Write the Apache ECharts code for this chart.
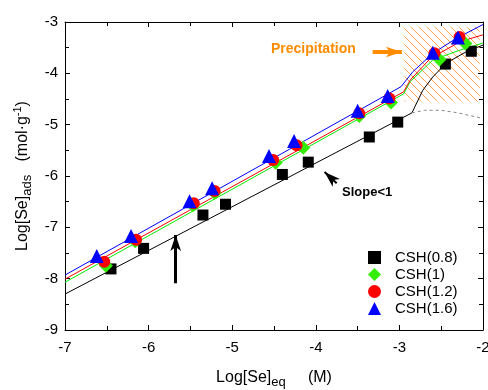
<!DOCTYPE html>
<html>
<head>
<meta charset="utf-8">
<script src="https://cdn.jsdelivr.net/npm/echarts@6/dist/echarts.min.js"></script>
<style>
  html, body { margin: 0; padding: 0; background: #fff; }
  #chart { width: 488px; height: 390px; }
</style>
</head>
<body>
<div id="chart"></div>
<script>
// measured points, [log Se_eq, log Se_ads]
var csh08 = [[-6.45, -7.81], [-6.06, -7.41], [-5.35, -6.76], [-5.08, -6.55], [-4.40, -5.97],
  [-4.09, -5.73], [-3.36, -5.24], [-3.02, -4.95], [-2.45, -3.82], [-2.14, -3.57]];
var csh1 = [[-6.51, -7.75], [-6.16, -7.27], [-5.47, -6.57], [-5.21, -6.33], [-4.48, -5.74],
  [-4.15, -5.45], [-3.48, -4.83], [-3.10, -4.57], [-2.52, -3.73], [-2.21, -3.42]];
var csh12 = [[-6.53, -7.67], [-6.15, -7.24], [-5.46, -6.53], [-5.21, -6.29], [-4.51, -5.69],
  [-4.23, -5.40], [-3.48, -4.78], [-3.12, -4.49], [-2.58, -3.61], [-2.28, -3.29]];
var csh16 = [[-6.62, -7.56], [-6.21, -7.17], [-5.51, -6.49], [-5.24, -6.24], [-4.56, -5.61],
  [-4.26, -5.32], [-3.50, -4.73], [-3.14, -4.44], [-2.60, -3.60], [-2.30, -3.30]];

// model curves
var fit08 = [[-7, -8.30], [-2.85, -4.77], [-2.72, -4.33], [-2.6, -4.07], [-2.44, -3.80], [-2.2, -3.58], [-2, -3.45]];
var fit08sat = [[-2.85, -4.77], [-2.7, -4.72], [-2.5, -4.72], [-2.3, -4.77], [-2, -4.88]];
var fit1 = [[-7, -8.07], [-2.95, -4.40], [-2.87, -4.16], [-2.6, -3.74], [-2.28, -3.55], [-2, -3.41]];
var fit12 = [[-7, -8.01], [-2.95, -4.36], [-2.87, -4.13], [-2.63, -3.71], [-2.27, -3.38], [-2, -3.25]];
var fit16 = [[-7, -7.93], [-2.98, -4.26], [-2.84, -3.97], [-2.6, -3.61], [-2.32, -3.32], [-2, -3.05]];

var names = ['CSH(0.8)', 'CSH(1)', 'CSH(1.2)', 'CSH(1.6)'];
var xTicks = [-7, -6, -5, -4, -3, -2];
var yTicks = [-9, -8, -7, -6, -5, -4, -3];

var font = 'Arial, "Liberation Sans", Helvetica, sans-serif';

// hatch pattern for the precipitation zone
var tile = document.createElement('canvas');
tile.width = 8; tile.height = 8;
var tc = tile.getContext('2d');
tc.strokeStyle = '#ff9933';
tc.lineWidth = 1;
tc.beginPath();
tc.moveTo(0, 0); tc.lineTo(8, 8);
tc.moveTo(-1, 7); tc.lineTo(1, 9);
tc.moveTo(7, -1); tc.lineTo(9, 1);
tc.stroke();

function fitLine(name, data, color, dashed) {
  return {
    name: name, type: 'line', data: data, showSymbol: false, silent: true,
    lineStyle: { color: color, width: 1, type: dashed ? [3, 3] : 'solid' },
    z: 2
  };
}

var chart = echarts.init(document.getElementById('chart'));
var axisCommon = {
  type: 'value',
  interval: 1,
  axisLine: { lineStyle: { color: '#000', width: 1 } },
  axisTick: { inside: true, length: 5, lineStyle: { color: '#000' } },
  minorTick: { show: true, splitNumber: 2, length: 4, lineStyle: { color: '#000' } },
  splitLine: { show: false }
};

chart.setOption({
  backgroundColor: '#fff',
  animation: false,
  grid: { left: 65, right: 5, top: 22, bottom: 60, outerBoundsMode: 'none' },
  xAxis: [
    Object.assign({}, axisCommon, {
      min: -7, max: -2, position: 'bottom',
      axisLabel: { color: '#000', fontSize: 15, fontFamily: font, margin: 10,
        formatter: function (v) { return xTicks.indexOf(v) >= 0 ? String(v) : ''; } },
      name: 'Log[Se]{sub|eq}     (M)',
      nameLocation: 'middle', nameGap: 37,
      nameTextStyle: {
        color: '#000', fontSize: 16, fontFamily: font,
        rich: { sub: { fontSize: 13, fontFamily: font, color: '#000', padding: [9, 0, 0, 0] } }
      }
    }),
    Object.assign({}, axisCommon, {
      min: -7, max: -2, position: 'top', axisLabel: { show: false }
    })
  ],
  yAxis: [
    Object.assign({}, axisCommon, {
      min: -9, max: -3, position: 'left',
      axisLabel: { color: '#000', fontSize: 15, fontFamily: font, margin: 7,
        formatter: function (v) { return yTicks.indexOf(v) >= 0 ? String(v) : ''; } },
      name: 'Log[Se]{sub|ads}   (mol·g{sup|-1})',
      nameLocation: 'middle', nameGap: 28, nameRotate: 90,
      nameTextStyle: {
        color: '#000', fontSize: 16, fontFamily: font,
        rich: {
          sub: { fontSize: 13, fontFamily: font, color: '#000', padding: [9, 0, 0, 0] },
          sup: { fontSize: 11, fontFamily: font, color: '#000', padding: [0, 0, 9, 0] }
        }
      }
    }),
    Object.assign({}, axisCommon, {
      min: -9, max: -3, position: 'right', axisLabel: { show: false }
    })
  ],
  legend: {
    data: names,
    orient: 'vertical',
    left: 363, top: 245,
    itemWidth: 13, itemHeight: 13, itemGap: 2,
    textStyle: { color: '#000', fontSize: 15, fontFamily: font, padding: [0, 0, 0, 9] }
  },
  series: [
    Object.assign(fitLine('fit08', fit08, '#000'), {
      markArea: {
        silent: true,
        itemStyle: { color: { image: tile, repeat: 'repeat' }, opacity: 0.9 },
        data: [[{ coord: [-2.94, -3.1] }, { coord: [-2.04, -4.55] }]]
      },
      markLine: {
        silent: true, symbol: ['none', 'arrow'],
        label: { show: false },
        data: [
          [{ coord: [-5.676, -8.09], lineStyle: { color: '#000', width: 3, type: 'solid' }, symbolSize: [13, 15] },
           { coord: [-5.676, -7.15] }],
          [{ coord: [-3.75, -6.14], lineStyle: { color: '#000', width: 2, type: 'solid' }, symbolSize: [9, 10] },
           { coord: [-3.895, -5.92] }],
          [{ coord: [-3.32, -3.585], lineStyle: { color: '#ff8c00', width: 4, type: 'solid' }, symbolSize: [12, 16] },
           { coord: [-2.97, -3.585] }]
        ]
      }
    }),
    fitLine('fit08sat', fit08sat, '#888', true),
    fitLine('fit1', fit1, '#00ee00'),
    fitLine('fit12', fit12, '#ff0000'),
    fitLine('fit16', fit16, '#0000ff'),
    { name: names[0], type: 'scatter', data: csh08, symbol: 'rect', symbolSize: 11,
      itemStyle: { color: '#000', opacity: 1 }, z: 5 },
    { name: names[1], type: 'scatter', data: csh1, symbol: 'diamond', symbolSize: 14,
      itemStyle: { color: '#33ee00', opacity: 1 }, z: 5 },
    { name: names[2], type: 'scatter', data: csh12, symbol: 'circle', symbolSize: 12,
      itemStyle: { color: '#ff0000', opacity: 1 }, z: 5 },
    { name: names[3], type: 'scatter', data: csh16, symbol: 'triangle', symbolSize: 14,
      itemStyle: { color: '#0000ff', opacity: 1 }, z: 6 }
  ],
  graphic: [
    { type: 'text', left: 271, top: 42, z: 10,
      style: { text: 'Precipitation', fill: '#ff8c00', font: 'bold 14px ' + font } },
    { type: 'text', left: 342, top: 186, z: 10,
      style: { text: 'Slope<1', fill: '#000', font: 'bold 13px ' + font } }
  ]
});
</script>
</body>
</html>
